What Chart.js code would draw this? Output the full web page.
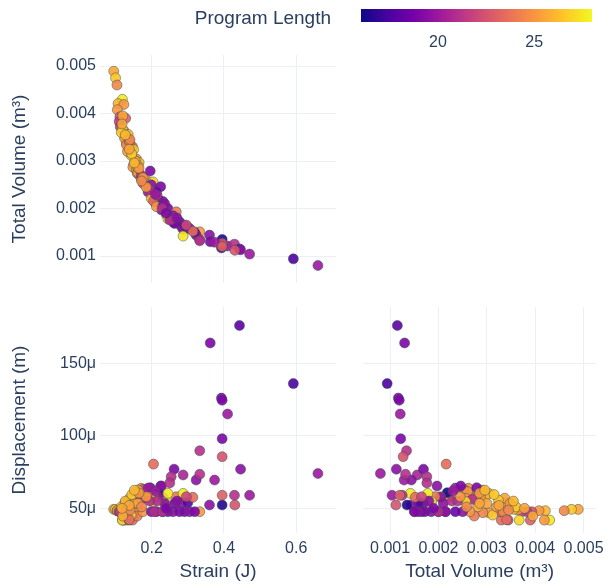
<!DOCTYPE html>
<html><head><meta charset="utf-8">
<script src="https://cdn.jsdelivr.net/npm/chart.js@4.4.1/dist/chart.umd.min.js"></script>
<style>
html,body{margin:0;padding:0;background:#fff;width:610px;height:585px;overflow:hidden}
canvas{position:absolute;left:0;top:0}
#cbtitle{position:absolute;left:0;width:331px;text-align:right;top:7px;line-height:22px;font-size:19px;font-family:'Liberation Sans',Arial,sans-serif;color:#2a3f5f;white-space:nowrap}
</style></head><body>
<canvas id="cA" width="610" height="585"></canvas>
<canvas id="cB" width="610" height="585"></canvas>
<canvas id="cC" width="610" height="585"></canvas>
<canvas id="cD" width="610" height="585"></canvas>
<div id="cbtitle">Program Length</div>
<script>
// ---- data (one entry per design) ----
const strain = [
0.095,0.100,0.104,0.119,0.107,0.123,0.105,0.112,0.128,0.110,
0.113,0.123,0.119,0.135,0.137,0.130,0.139,0.147,0.144,0.150,
0.153,0.158,0.150,0.165,0.148,0.158,0.160,0.167,0.162,0.171,
0.176,0.185,0.181,0.155,0.143,0.125,0.116,0.133,0.130,0.138,
0.162,0.171,0.176,0.162,0.140,0.120,
0.196,0.204,0.199,0.190,0.225,0.213,0.199,0.220,0.208,0.205,
0.231,0.227,0.213,0.231,0.245,0.268,0.241,0.259,0.245,0.287,
0.264,0.282,0.300,0.277,0.333,0.287,0.323,0.333,0.360,0.362,
0.395,0.393,0.395,0.410,0.429,0.443,0.471,0.592,0.660,0.395,
0.395,0.446,0.374,0.395,0.430,0.262,0.254,0.250,0.291,0.305,
0.319,0.333,0.314,0.236,0.215,0.194,0.185,0.229,0.270,0.296,
0.210,0.240,0.127,0.145,0.165,0.152,0.138,0.172,0.118
];
const totalVolume = [
0.00489,0.00475,0.00460,0.00430,0.00421,0.00419,0.00408,0.00393,0.00390,0.00383,
0.00372,0.00364,0.00367,0.00356,0.00344,0.00338,0.00337,0.00330,0.00327,0.00324,
0.00304,0.00304,0.00292,0.00297,0.00287,0.00281,0.00274,0.00269,0.00276,0.00262,
0.00253,0.00260,0.00256,0.00300,0.00312,0.00348,0.00360,0.00320,0.00334,0.00341,
0.00290,0.00270,0.00265,0.00285,0.00345,0.00395,
0.00279,0.00256,0.00250,0.00235,0.00246,0.00235,0.00221,0.00218,0.00214,0.00216,
0.00215,0.00197,0.00204,0.00205,0.00200,0.00193,0.00186,0.00185,0.00178,0.00156,
0.00169,0.00162,0.00158,0.00172,0.00151,0.00142,0.00144,0.00134,0.00144,0.00130,
0.00135,0.00117,0.00119,0.00121,0.00125,0.00115,0.00104,0.00094,0.00080,0.00122,
0.00127,0.00113,0.00129,0.00120,0.00112,0.00169,0.00176,0.00176,0.00165,0.00158,
0.00150,0.00132,0.00152,0.00210,0.00228,0.00240,0.00245,0.00200,0.00180,0.00165,
0.00230,0.00190,0.00355,0.00315,0.00285,0.00296,0.00325,0.00258,0.00378
];
const displacement = [
49.3e-6,49.3e-6,48.4e-6,41.9e-6,48.4e-6,41.9e-6,48.4e-6,47.7e-6,41.9e-6,47.7e-6,
47.7e-6,48.8e-6,41.9e-6,49.3e-6,41.9e-6,53.9e-6,57.0e-6,41.9e-6,47.7e-6,55.7e-6,
60.3e-6,47.0e-6,47.0e-6,58.0e-6,58.0e-6,51.0e-6,44.7e-6,58.0e-6,56.9e-6,63.8e-6,
63.0e-6,61.5e-6,56.9e-6,53.4e-6,45.4e-6,53.4e-6,51.0e-6,51.0e-6,47.7e-6,42.2e-6,
62.6e-6,56.2e-6,47.7e-6,53.4e-6,48.8e-6,44.7e-6,
64.2e-6,54.6e-6,47.7e-6,64.0e-6,65.4e-6,47.7e-6,58.0e-6,60.8e-6,47.7e-6,80.5e-6,
47.7e-6,65.4e-6,58.0e-6,57.6e-6,47.7e-6,58.0e-6,54.6e-6,47.7e-6,60.3e-6,73.0e-6,
53.4e-6,53.9e-6,53.9e-6,47.7e-6,47.7e-6,60.3e-6,69.5e-6,89.7e-6,52.3e-6,164e-6,
52.3e-6,126e-6,124.5e-6,115e-6,59.0e-6,176e-6,59.0e-6,136e-6,74.0e-6,98.0e-6,
85.6e-6,77.0e-6,69.5e-6,59.0e-6,52.3e-6,77.0e-6,71.8e-6,67.5e-6,47.7e-6,47.7e-6,
47.7e-6,73.5e-6,57.6e-6,53.4e-6,55.0e-6,55.0e-6,58.0e-6,47.7e-6,55.0e-6,58.0e-6,
62.0e-6,50.0e-6,55.0e-6,59.5e-6,60.5e-6,62.5e-6,52.0e-6,51.0e-6,50.0e-6
];
const programLength = [
25.5,26.5,24.5,27.5,26,25,25,22.5,23,21.5,
21.5,25,27,26,22.5,25,25.5,23.5,23,26.5,
26,25,24.5,26,25,25.5,24,23.5,25.5,25,
22.5,25,25,25.5,26.5,25,26.5,25,24.5,23.5,
25.5,21,25,25.5,24.5,25.5,
19,27,19.5,20,19,18.5,26,16,21,23.5,
19.5,19.5,25,19.5,19,24,27,19.5,27.5,20.5,
19,19.5,18,19,25,27.5,19.5,21,19.5,19,
16.5,19,19,20,21,18,20,17.5,20,19,
22.5,19.5,20,23,22.5,19,21,21,19,19.5,
19,21,23.5,19.5,21,21,25,21,19.5,22,
20,19,26,26.5,25,26,25.5,24.5,25.5
];
const strainTicks = [0.2, 0.4, 0.6];
const volumeTicks = [0.001, 0.002, 0.003, 0.004, 0.005];
const displacementTicks = [50e-6, 100e-6, 150e-6];
const colorTicks = [20, 25];
const colorMin = 16, colorMax = 28;

// ---- style ----
const FONT = "'Liberation Sans', Arial, sans-serif";
const TXT = '#2a3f5f';
const GRID = '#EBF0F8';
const PLASMA = ['#0d0887','#46039f','#7201a8','#9c179e','#bd3786','#d8576b','#ed7953','#fb9f3a','#fdca26','#f0f921'];
function hex(h){return [parseInt(h.slice(1,3),16),parseInt(h.slice(3,5),16),parseInt(h.slice(5,7),16)];}
function plasma(t,a){
  t=Math.max(0,Math.min(1,t));
  const n=PLASMA.length-1; const i=Math.min(n-1,Math.floor(t*n)); const f=t*n-i;
  const c0=hex(PLASMA[i]), c1=hex(PLASMA[i+1]);
  const c=c0.map((v,k)=>Math.round(v+(c1[k]-v)*f));
  return `rgba(${c[0]},${c[1]},${c[2]},${a})`;
}
const fill = programLength.map(v=>plasma((v-colorMin)/(colorMax-colorMin),0.9));

function axis(o){
  return {
    type:'linear', min:o.min, max:o.max, display:true,
    afterBuildTicks:s=>{ s.ticks = o.ticks.map(v=>({value:v})); },
    afterFit:s=>{ if(s.isHorizontal()) s.height=o.size; else s.width=o.size; },
    grid:{display:o.grid!==false, color:GRID, lineWidth:1, drawTicks:false},
    border:{display:false},
    ticks:{display:!!o.show, color:TXT, font:{family:FONT,size:16}, padding:o.tickPad||4,
      callback:o.fmt, maxRotation:0, autoSkip:false},
    title:{display:!!o.title, text:o.title||'', color:TXT, font:{family:FONT,size:19}, padding:o.titlePad||{top:4,bottom:4}}
  };
}
function scatter(id, xs, ys, pad, xo, yo){
  const data = xs.map((x,i)=>({x:x,y:ys[i]}));
  return new Chart(document.getElementById(id),{
    type:'scatter',
    data:{datasets:[{data:data, pointRadius:5, pointHoverRadius:5,
      pointBackgroundColor:fill, pointBorderColor:'rgba(47,79,79,0.6)', pointBorderWidth:0.8}]},
    options:{responsive:false, animation:false, devicePixelRatio:1,
      layout:{padding:pad},
      plugins:{legend:{display:false}, tooltip:{enabled:false}},
      scales:{x:axis(xo), y:axis(yo)}}
  });
}
const fmtVol = v=>v.toFixed(3);
const fmtStrain = v=>v.toFixed(1);
const fmtMicro = v=>Math.round(v*1e6)+'μ';

// top-left: strain vs total volume
scatter('cA', strain, totalVolume, {left:0,top:55,right:274,bottom:302},
  {min:0.057,max:0.71,ticks:strainTicks,size:0,show:false},
  {min:0.000432,max:0.005232,ticks:volumeTicks,size:100,show:true,fmt:fmtVol,title:'Total Volume (m³)',titlePad:{top:8,bottom:4}});
// bottom-left: strain vs displacement
scatter('cB', strain, displacement, {left:0,top:307,right:274,bottom:0},
  {min:0.057,max:0.71,ticks:strainTicks,size:52,show:true,fmt:fmtStrain,tickPad:6,title:'Strain (J)',titlePad:{top:0,bottom:2}},
  {min:33e-6,max:188.8e-6,ticks:displacementTicks,size:100,show:true,fmt:fmtMicro,title:'Displacement (m)',titlePad:{top:8,bottom:4}});
// bottom-right: total volume vs displacement
scatter('cC', totalVolume, displacement, {left:363,top:307,right:8,bottom:0},
  {min:0.00044,max:0.00526,ticks:volumeTicks,size:52,show:true,fmt:fmtVol,tickPad:6,title:'Total Volume (m³)',titlePad:{top:0,bottom:2}},
  {min:33e-6,max:188.8e-6,ticks:displacementTicks,size:0,show:false});

// colour bar
const cbPlugin = {id:'cb', beforeDatasetsDraw(chart){
  const a=chart.chartArea, ctx=chart.ctx;
  const g=ctx.createLinearGradient(a.left,0,a.right,0);
  PLASMA.forEach((c,i)=>g.addColorStop(i/(PLASMA.length-1),c));
  ctx.save(); ctx.fillStyle=g; ctx.fillRect(a.left,a.top,a.right-a.left,a.bottom-a.top); ctx.restore();
}};
new Chart(document.getElementById('cD'),{
  type:'scatter', data:{datasets:[{data:[]}]},
  options:{responsive:false, animation:false, devicePixelRatio:1,
    layout:{padding:{left:361,top:9,right:18,bottom:532}},
    plugins:{legend:{display:false},tooltip:{enabled:false}},
    scales:{
      x:{type:'linear',min:colorMin,max:colorMax,
        afterBuildTicks:s=>{s.ticks=colorTicks.map(v=>({value:v}));},
        afterFit:s=>{s.height=31;},
        grid:{display:false}, border:{display:false},
        ticks:{color:TXT,font:{family:FONT,size:16},padding:3,maxRotation:0,autoSkip:false}},
      y:{display:false,min:0,max:1}
    }},
  plugins:[cbPlugin]
});
</script>
</body></html>
